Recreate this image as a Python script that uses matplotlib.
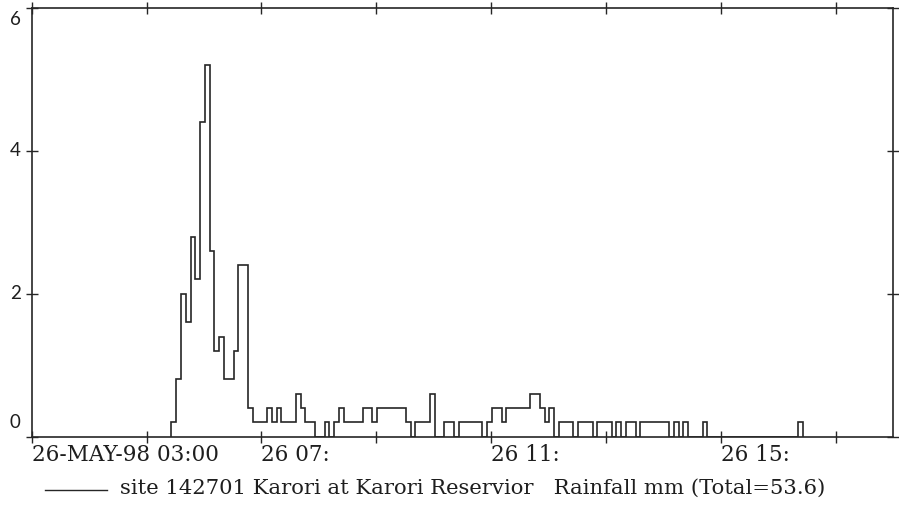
import numpy as np
import pandas as pd
import matplotlib
matplotlib.use("Agg")
import matplotlib.pyplot as plt
import matplotlib.dates as mdates
from matplotlib.lines import Line2D

# ---- data (5-minute rainfall totals, mm) ----
start_time = "1998-05-26 05:26"
interval = "5min"
rain_mm = [
    0.2, 0.8, 2.0, 1.6, 2.8, 2.2, 4.4, 5.2, 2.6, 1.2,   # 0-9
    1.4, 0.8, 0.8, 1.2, 2.4, 2.4, 0.4, 0.2, 0.2, 0.2,   # 10-19
    0.4, 0.2, 0.4, 0.2, 0.2, 0.2, 0.6, 0.4, 0.2, 0.2,   # 20-29
    0.0, 0.0, 0.2, 0.0, 0.2, 0.4, 0.2, 0.2, 0.2, 0.2,   # 30-39
    0.4, 0.4, 0.2, 0.4, 0.4, 0.4, 0.4, 0.4, 0.4, 0.2,   # 40-49
    0.0, 0.2, 0.2, 0.2, 0.6, 0.0, 0.0, 0.2, 0.2, 0.0,   # 50-59
    0.2, 0.2, 0.2, 0.2, 0.2, 0.0, 0.2, 0.4, 0.4, 0.2,   # 60-69
    0.4, 0.4, 0.4, 0.4, 0.4, 0.6, 0.6, 0.4, 0.2, 0.4,   # 70-79
    0.0, 0.2, 0.2, 0.2, 0.0, 0.2, 0.2, 0.2, 0.0, 0.2,   # 80-89
    0.2, 0.2, 0.0, 0.2, 0.0, 0.2, 0.2, 0.0, 0.2, 0.2,   # 90-99
    0.2, 0.2, 0.2, 0.2, 0.0, 0.2, 0.0, 0.2, 0.0, 0.0,   # 100-109
    0.0, 0.2, 0.0, 0.0, 0.0, 0.0, 0.0, 0.0, 0.0, 0.0,   # 110-119
    0.0, 0.0, 0.0, 0.0, 0.0, 0.0, 0.0, 0.0, 0.0, 0.0,   # 120-129
    0.0, 0.2,                                           # 130-131
]
x_start = "1998-05-26 03:00"
x_end = "1998-05-26 18:00"
tick_times = ["1998-05-26 03:00", "1998-05-26 05:00", "1998-05-26 07:00",
              "1998-05-26 09:00", "1998-05-26 11:00", "1998-05-26 13:00",
              "1998-05-26 15:00", "1998-05-26 17:00"]
tick_labels = ["26-MAY-98 03:00", "", "26 07:", "", "26 11:", "", "26 15:", ""]
y_ticks = [0, 2, 4, 6]
legend_text = "site 142701 Karori at Karori Reservior   Rainfall mm (Total=53.6)"

# ---- figure ----
fig = plt.figure(figsize=(8.99, 5.05), dpi=100)
ax = fig.add_axes([31.7 / 899, 1 - 436.5 / 505, (893 - 31.7) / 899, (436.5 - 8) / 505])

edges = pd.date_range(start_time, periods=len(rain_mm) + 1, freq=interval)
edges_num = mdates.date2num(edges.to_pydatetime())
line_color = "#262626"
text_color = "#1e1e1e"
ax.stairs(rain_mm, edges_num, baseline=0, color=line_color, linewidth=1.2)

ax.set_xlim(mdates.date2num(pd.Timestamp(x_start)), mdates.date2num(pd.Timestamp(x_end)))
ax.set_ylim(0, 6)

serif = "DejaVu Serif"
ax.set_xticks(mdates.date2num(pd.to_datetime(tick_times).to_pydatetime()))
ax.set_xticklabels(tick_labels, family=serif, fontsize=15.5, ha="left", color=text_color)

# y tick marks from the axis, labels placed as in the reference
# (the end labels sit inside the axis range)
ax.set_yticks(y_ticks)
ax.set_yticklabels([])
y_offsets = {0: (-8, 10), 2: (-8, 0), 4: (-8, 0), 6: (-8, -8)}
for v in y_ticks:
    dx, dy = y_offsets[v]
    ax.annotate(str(v), xy=(0, v), xycoords=("axes fraction", "data"),
                xytext=(dx, dy), textcoords="offset points",
                ha="right", va="center", family="Lato", fontsize=13.5,
                color=text_color, annotation_clip=False)

ax.tick_params(axis="both", direction="inout", length=8.5, width=1.0, color=line_color,
               top=True, right=True, labeltop=False, labelright=False)
ax.tick_params(axis="x", pad=1)
for s in ax.spines.values():
    s.set_color(line_color)
    s.set_linewidth(1.2)

# ---- legend-like caption ----
fig.add_artist(Line2D([45 / 899, 107 / 899], [1 - 490 / 505, 1 - 490 / 505],
                      color=line_color, linewidth=1.0, transform=fig.transFigure))
fig.text(120 / 899, 1 - 494 / 505, legend_text, family=serif,
         fontsize=15.2, ha="left", va="baseline", color=text_color)

fig.savefig("out.png", dpi=100)
